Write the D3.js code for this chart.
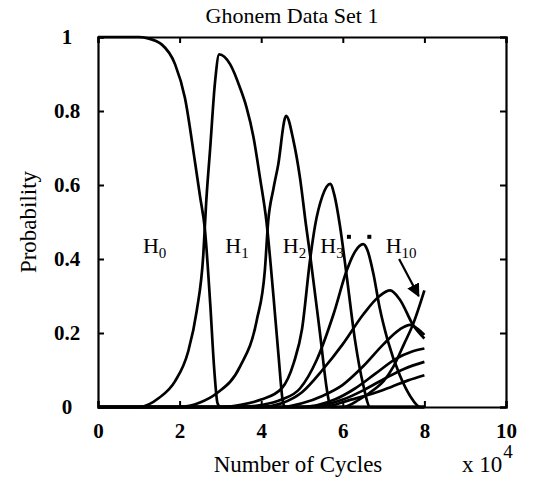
<!DOCTYPE html>
<html>
<head>
<meta charset="utf-8">
<script src="https://cdn.jsdelivr.net/npm/d3@7"></script>
<style>
  body { margin: 0; background: #fff; }
  text { font-family: "Liberation Serif", "Times New Roman", serif; fill: #000; }
</style>
</head>
<body>
<div id="chart"></div>
<script>
// cycles in units of 10^4, probability
var h0 = [[0,1],[1.0,1],[1.2,0.997],[1.56,0.98],[1.89,0.926],[2.13,0.836],[2.38,0.66],[2.5,0.57],[2.62,0.48],[2.75,0.28],[2.85,0.1],[2.93,0.01],[3.0,0],[8,0]];
var h1 = [[0,0],[1.0,0],[1.5,0.025],[1.89,0.07],[2.21,0.15],[2.42,0.26],[2.58,0.41],[2.65,0.55],[2.75,0.70],[2.87,0.88],[2.97,0.953],[3.24,0.926],[3.48,0.863],[3.64,0.81],[3.81,0.73],[3.97,0.62],[4.13,0.50],[4.30,0.30],[4.42,0.145],[4.54,0.01],[4.6,0],[8,0]];
var h2 = [[0,0],[2.0,0],[2.5,0.012],[2.91,0.037],[3.48,0.109],[3.89,0.234],[4.09,0.37],[4.17,0.50],[4.3,0.59],[4.42,0.657],[4.58,0.78],[4.61,0.787],[4.79,0.72],[4.95,0.62],[5.1,0.49],[5.2,0.41],[5.44,0.2],[5.62,0.04],[5.7,0],[8,0]];
var h3 = [[0,0],[3.0,0],[3.5,0.006],[4.0,0.02],[4.5,0.05],[4.8,0.12],[5.0,0.21],[5.2,0.4],[5.32,0.49],[5.5,0.57],[5.69,0.603],[5.8,0.57],[5.93,0.49],[6.1,0.35],[6.3,0.18],[6.5,0.06],[6.67,0],[8,0]];
var h4 = [[0,0],[3.5,0],[4.0,0.005],[4.5,0.02],[4.95,0.05],[5.36,0.127],[5.77,0.25],[6.1,0.37],[6.3,0.42],[6.5,0.44],[6.6,0.425],[6.75,0.36],[6.9,0.27],[7.1,0.18],[7.4,0.085],[7.65,0.03],[7.9,0],[8,0]];
var h5 = [[0,0],[4.0,0],[4.5,0.01],[5.0,0.04],[5.5,0.1],[6.0,0.17],[6.5,0.25],[6.9,0.3],[7.16,0.315],[7.4,0.29],[7.73,0.22],[8.0,0.185]];
var h6 = [[0,0],[4.5,0],[5.0,0.01],[5.5,0.03],[6.0,0.06],[6.5,0.11],[7.0,0.17],[7.4,0.21],[7.65,0.222],[7.85,0.21],[8.0,0.195]];
var h7 = [[0,0],[5.0,0],[5.8,0.02],[6.3,0.05],[6.8,0.09],[7.3,0.13],[7.7,0.15],[8.0,0.158]];
var h8 = [[0,0],[5.2,0],[6.0,0.02],[6.5,0.045],[7.0,0.075],[7.5,0.103],[8.0,0.122]];
var h9 = [[0,0],[5.5,0],[6.2,0.02],[6.7,0.035],[7.2,0.055],[7.6,0.072],[8.0,0.086]];
var h10 = [[0,0],[6.0,0],[6.4,0.02],[6.8,0.05],[7.0,0.07],[7.24,0.109],[7.5,0.17],[7.73,0.226],[8.0,0.315]];
var series = [h0, h1, h2, h3, h4, h5, h6, h7, h8, h9, h10];

var xTicks = [0, 2, 4, 6, 8, 10];
var yTicks = [0, 0.2, 0.4, 0.6, 0.8, 1];
var labels = [
  { base: "H", sub: "0", x: 1.1, y: 0.415 },
  { base: "H", sub: "1", x: 3.12, y: 0.415 },
  { base: "H", sub: "2", x: 4.53, y: 0.415 },
  { base: "H", sub: "3", x: 5.45, y: 0.415 },
  { base: "H", sub: "10", x: 7.05, y: 0.415 }
];

var width = 540, height = 482;
var margin = { top: 37, right: 34, bottom: 75, left: 98 };

var svg = d3.select("#chart").append("svg")
    .attr("width", width)
    .attr("height", height);

var x = d3.scaleLinear().domain([0, 10]).range([margin.left, width - margin.right]);
var y = d3.scaleLinear().domain([0, 1]).range([height - margin.bottom, margin.top]);

// title
svg.append("text")
    .attr("x", 292)
    .attr("y", 23)
    .attr("text-anchor", "middle")
    .style("font-size", "22px")
    .text("Ghonem Data Set 1");

// axes with inward ticks on all four sides
var tickLen = 6;
svg.append("g")
    .attr("transform", `translate(0,${y(0)})`)
    .call(d3.axisBottom(x).tickValues(xTicks).tickSize(-tickLen).tickPadding(16).tickFormat(d3.format("d")))
    .call(g => g.select(".domain").attr("stroke-width", 2.2))
    .call(g => g.selectAll("text").style("font-size", "21px").style("font-weight", "bold"));

svg.append("g")
    .attr("transform", `translate(0,${y(1)})`)
    .call(d3.axisTop(x).tickValues(xTicks).tickSize(-tickLen).tickFormat(""))
    .call(g => g.select(".domain").attr("stroke-width", 2.2));

svg.append("g")
    .attr("transform", `translate(${x(0)},0)`)
    .call(d3.axisLeft(y).tickValues(yTicks).tickSize(-tickLen).tickPadding(0).tickFormat(d => d === 0 || d === 1 ? d3.format("d")(d) : d3.format(".1f")(d)))
    .call(g => g.select(".domain").attr("stroke-width", 2.2))
    .call(g => g.selectAll("text").attr("x", -31).attr("text-anchor", "middle").style("font-size", "21px").style("font-weight", "bold"));

svg.append("g")
    .attr("transform", `translate(${x(10)},0)`)
    .call(d3.axisRight(y).tickValues(yTicks).tickSize(-tickLen).tickFormat(""))
    .call(g => g.select(".domain").attr("stroke-width", 2.2));

svg.selectAll(".tick line").attr("stroke-width", 2);

// axis labels
svg.append("text")
    .attr("x", 298)
    .attr("y", 472)
    .attr("text-anchor", "middle")
    .style("font-size", "23px")
    .text("Number of Cycles");

var exp = svg.append("text")
    .attr("x", 462)
    .attr("y", 472)
    .style("font-size", "23px");
exp.append("tspan").text("x 10");
exp.append("tspan").attr("dy", -14).attr("dx", 1).style("font-size", "19px").text("4");

svg.append("text")
    .attr("transform", `translate(36,${(y(0) + y(1)) / 2}) rotate(-90)`)
    .attr("text-anchor", "middle")
    .style("font-size", "23px")
    .text("Probability");

// curves
var line = d3.line()
    .x(d => x(d[0]))
    .y(d => y(d[1]))
    .curve(d3.curveMonotoneX);

svg.append("g")
    .selectAll("path")
    .data(series)
    .join("path")
    .attr("d", line)
    .attr("fill", "none")
    .attr("stroke", "#000")
    .attr("stroke-width", 2.7)
    .attr("stroke-linejoin", "round");

// state labels
var lab = svg.append("g")
    .selectAll("text")
    .data(labels)
    .join("text")
    .attr("x", d => x(d.x))
    .attr("y", d => y(d.y))
    .style("font-size", "22px");
lab.append("tspan").text(d => d.base);
lab.append("tspan").attr("dy", 5).style("font-size", "15px").text(d => d.sub);

// ellipsis dots between H3 and H10
svg.append("g")
    .selectAll("rect")
    .data([6.15, 6.65])
    .join("rect")
    .attr("x", d => x(d) - 2)
    .attr("y", y(0.46) - 2)
    .attr("width", 4)
    .attr("height", 4);

// arrow pointing at H10
svg.append("defs").append("marker")
    .attr("id", "head")
    .attr("viewBox", "0 0 10 10")
    .attr("refX", 9)
    .attr("refY", 5)
    .attr("markerWidth", 6)
    .attr("markerHeight", 6)
    .attr("orient", "auto")
  .append("path")
    .attr("d", "M0,0L10,5L0,10Z");

svg.append("line")
    .attr("x1", x(7.38)).attr("y1", y(0.40))
    .attr("x2", x(7.86)).attr("y2", y(0.30))
    .attr("stroke", "#000")
    .attr("stroke-width", 2.2)
    .attr("marker-end", "url(#head)");
</script>
</body>
</html>
